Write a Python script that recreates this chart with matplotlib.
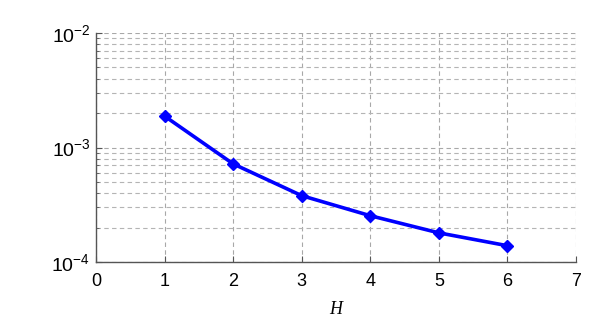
import numpy as np
import matplotlib
matplotlib.use('Agg')
from matplotlib import pyplot as plt
from matplotlib.ticker import LogLocator, NullFormatter

h_values = [1, 2, 3, 4, 5, 6]
errors = [1.88e-3, 7.2e-4, 3.8e-4, 2.54e-4, 1.80e-4, 1.39e-4]
x_ticks = [0, 1, 2, 3, 4, 5, 6, 7]

plt.rcParams['font.family'] = ['Liberation Sans', 'DejaVu Sans']
plt.rcParams['mathtext.fontset'] = 'custom'
plt.rcParams['mathtext.rm'] = 'Liberation Sans'

fig = plt.figure(figsize=(5.94, 3.26), dpi=100)
ax = fig.add_axes([0.1616, 0.196, 0.8081, 0.703])

ax.plot(h_values, errors, color='#0000ff', linewidth=2.6, marker='D',
        markersize=6, markerfacecolor='#0000ff', markeredgecolor='#0000ff')

ax.set_yscale('log')
ax.set_xlim(0, 7)
ax.set_ylim(1e-4, 1e-2)
ax.set_xticks(x_ticks)
ax.yaxis.set_major_locator(LogLocator(base=10))
ax.yaxis.set_minor_locator(LogLocator(base=10, subs=np.arange(2, 10)))
ax.yaxis.set_minor_formatter(NullFormatter())

ax.grid(True, which='major', color='#a8a8a8', linestyle=(0, (4, 3)), linewidth=0.8)
ax.grid(True, which='minor', axis='y', color='#b4b4b4', linestyle=(0, (4, 3)), linewidth=0.8)

for side in ['top', 'right']:
    ax.spines[side].set_visible(False)
for side in ['left', 'bottom']:
    ax.spines[side].set_color('#555555')
    ax.spines[side].set_linewidth(1.0)

ax.tick_params(which='both', direction='in', colors='#555555', labelcolor='black')
ax.tick_params(axis='x', labelsize=13, pad=8)
ax.tick_params(axis='y', labelsize=14, pad=4)
ax.tick_params(which='major', length=4)
ax.tick_params(which='minor', length=2)

ax.set_xlabel('H', fontfamily='Liberation Serif', fontstyle='italic', fontsize=13, labelpad=8)

plt.savefig('out.png', dpi=100)
